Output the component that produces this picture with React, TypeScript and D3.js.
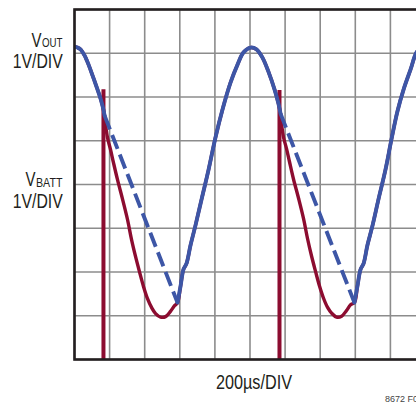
import React from 'react';
import * as d3 from 'd3';

const W = 416;
const H = 402;

// Grid: 10 time divisions (200 µs each), 8 voltage divisions
const timeTicks = [0, 200, 400, 600, 800, 1000, 1200, 1400, 1600, 1800, 2000];
const voltTicks = [0, 1, 2, 3, 4, 5, 6, 7, 8];

// VOUT (blue) – time in µs, value in divisions from bottom
const voutT = [0, 17, 34, 57, 80, 103, 125, 148, 165, 171,
  587, 604, 621, 638, 661, 689, 724, 764, 803, 843, 889, 929, 963, 1003, 1037, 1071, 1105, 1140, 1162, 1174,
  1595, 1612, 1630, 1647, 1669, 1698, 1732, 1772, 1806, 1840, 1875, 1915, 1949, 1983, 2000];
const voutV = [7.15, 7.13, 7.09, 6.95, 6.74, 6.49, 6.24, 5.97, 5.71, 5.58,
  1.30, 1.67, 2.06, 2.19, 2.61, 3.06, 3.66, 4.34, 5.07, 5.71, 6.33, 6.74, 7.02, 7.13, 7.09, 6.90, 6.58, 6.17, 5.85, 5.62,
  1.30, 1.67, 2.06, 2.19, 2.61, 3.06, 3.66, 4.34, 5.03, 5.67, 6.17, 6.63, 7.02, 7.15, 7.16];
// spans of VOUT drawn dashed
const voutDashed = [[171, 587], [1174, 1595]];

// VBATT (red)
const vbattT = [0, 17, 34, 57, 80, 103, 125, 148, 165, 171,
  177, 188, 205, 222, 245, 274, 302, 325, 348, 370, 393, 416, 439, 462, 490, 519, 547, 570,
  587, 604, 621, 638, 661, 689, 724, 764, 803, 843, 889, 929, 963, 1003, 1037, 1071, 1105, 1140, 1162, 1174,
  1180, 1191, 1208, 1225, 1248, 1277, 1305, 1328, 1351, 1373, 1396, 1419, 1442, 1465, 1493, 1522, 1550, 1573,
  1595, 1612, 1630, 1647, 1669, 1698, 1732, 1772, 1806, 1840, 1875, 1915, 1949, 1983, 2000];
const vbattV = [7.15, 7.13, 7.09, 6.95, 6.74, 6.49, 6.24, 5.97, 5.71, 5.58,
  5.37, 5.07, 4.80, 4.50, 4.11, 3.66, 3.20, 2.74, 2.35, 2.01, 1.67, 1.39, 1.19, 1.05, 0.97, 0.98, 1.10, 1.23,
  1.30, 1.67, 2.06, 2.19, 2.61, 3.06, 3.66, 4.34, 5.07, 5.71, 6.33, 6.74, 7.02, 7.13, 7.09, 6.90, 6.58, 6.17, 5.85, 5.62,
  5.37, 5.08, 4.82, 4.52, 4.12, 3.68, 3.22, 2.76, 2.36, 2.02, 1.68, 1.40, 1.19, 1.06, 0.97, 0.99, 1.12, 1.25,
  1.30, 1.67, 2.06, 2.19, 2.61, 3.06, 3.66, 4.34, 5.03, 5.67, 6.17, 6.63, 7.02, 7.15, 7.16];

// VBATT spikes
const spikeT = [165, 1168];
const spikeTop = [6.18, 6.16];

const RED = '#8c0c30';
const BLUE = '#3d56a6';
const GRID = '#8c8c8c';
const INK = '#231f20';
const FONT = "'Liberation Sans Narrow', 'Arial Narrow', 'Liberation Sans', Arial, sans-serif";

export default function App() {
  const x = d3.scaleLinear().domain([0, 2000]).range([74.5, 425.5]);
  const y = d3.scaleLinear().domain([0, 8]).range([359.5, 9.5]);
  const line = d3
    .line<[number, number]>()
    .x((d) => x(d[0]))
    .y((d) => y(d[1]))
    .curve(d3.curveCatmullRom.alpha(0.5));
  const straight = d3
    .line<[number, number]>()
    .x((d) => x(d[0]))
    .y((d) => y(d[1]));

  const vout: [number, number][] = voutT.map((t, i) => [t, voutV[i]]);
  const vbatt: [number, number][] = vbattT.map((t, i) => [t, vbattV[i]]);

  // dashed pieces of VOUT
  const dashedPieces: [number, number][][] = voutDashed.map((s) => [
    vout.find((q) => q[0] === s[0])!,
    vout.find((q) => q[0] === s[1])!,
  ]);
  // solid pieces of VOUT
  const solids: [number, number][][] = [];
  let piece: [number, number][] = [];
  let inDash = false;
  vout.forEach((p) => {
    const startSpan = voutDashed.find((s) => s[0] === p[0]);
    const endSpan = voutDashed.find((s) => s[1] === p[0]);
    if (endSpan) {
      inDash = false;
      piece = [p];
      return;
    }
    if (!inDash) piece.push(p);
    if (startSpan) {
      solids.push(piece);
      piece = [];
      inDash = true;
    }
  });
  if (piece.length) solids.push(piece);

  const plotL = x(0);
  const plotR = x(2000);
  const plotT = y(8);
  const plotB = y(0);

  return (
    <svg
      width={W}
      height={H}
      viewBox={`0 0 ${W} ${H}`}
      style={{ position: 'absolute', left: 0, top: 0, background: '#fff' }}
    >
      <defs>
        <clipPath id="plot">
          <rect x={plotL} y={plotT - 2} width={plotR - plotL} height={plotB - plotT + 4} />
        </clipPath>
      </defs>
      <rect x={0} y={0} width={W} height={H} fill="#fff" />
      {/* grid */}
      {timeTicks.map((t) => (
        <line key={'v' + t} x1={x(t)} x2={x(t)} y1={plotT} y2={plotB} stroke={GRID} strokeWidth={1.6} />
      ))}
      {voltTicks.map((v) => (
        <line key={'h' + v} x1={plotL} x2={plotR} y1={y(v)} y2={y(v)} stroke={GRID} strokeWidth={1.6} />
      ))}
      <g clipPath="url(#plot)">
        {/* VBATT */}
        <path d={line(vbatt) || ''} fill="none" stroke={RED} strokeWidth={3.4} strokeLinejoin="round" />
        {spikeT.map((t, i) => (
          <line key={'s' + i} x1={x(t)} x2={x(t)} y1={y(spikeTop[i])} y2={y(0)} stroke={RED} strokeWidth={4} />
        ))}
        {/* VOUT */}
        {solids.map((p, i) => (
          <path key={'bs' + i} d={line(p) || ''} fill="none" stroke={BLUE} strokeWidth={3.9} strokeLinejoin="round" strokeLinecap="round" />
        ))}
        {dashedPieces.map((p, i) => (
          <path key={'bd' + i} d={straight(p) || ''} fill="none" stroke={BLUE} strokeWidth={3.9} strokeDasharray="15 6" />
        ))}
      </g>
      {/* frame */}
      <rect x={plotL} y={plotT} width={plotR - plotL} height={plotB - plotT} fill="none" stroke={INK} strokeWidth={2.6} />
      {/* labels */}
      <g fill={INK} fontFamily={FONT}>
        <text y={47}>
          <tspan x={31.5} fontSize={21} textLength={10} lengthAdjust="spacingAndGlyphs">V</tspan>
          <tspan x={42} fontSize={12} textLength={20.5} lengthAdjust="spacingAndGlyphs">OUT</tspan>
        </text>
        <text x={12.7} y={68} fontSize={21} textLength={50} lengthAdjust="spacingAndGlyphs">1V/DIV</text>
        <text y={185.5}>
          <tspan x={25.5} fontSize={21} textLength={10} lengthAdjust="spacingAndGlyphs">V</tspan>
          <tspan x={36} dy={1} fontSize={12.5} textLength={26.5} lengthAdjust="spacingAndGlyphs">BATT</tspan>
        </text>
        <text x={12.7} y={207.7} fontSize={21} textLength={50} lengthAdjust="spacingAndGlyphs">1V/DIV</text>
        <text x={216} y={389} fontSize={20} textLength={76} lengthAdjust="spacingAndGlyphs">200µs/DIV</text>
        <text x={385} y={401.5} fontSize={9} fill="#444">8672 F01</text>
      </g>
    </svg>
  );
}
